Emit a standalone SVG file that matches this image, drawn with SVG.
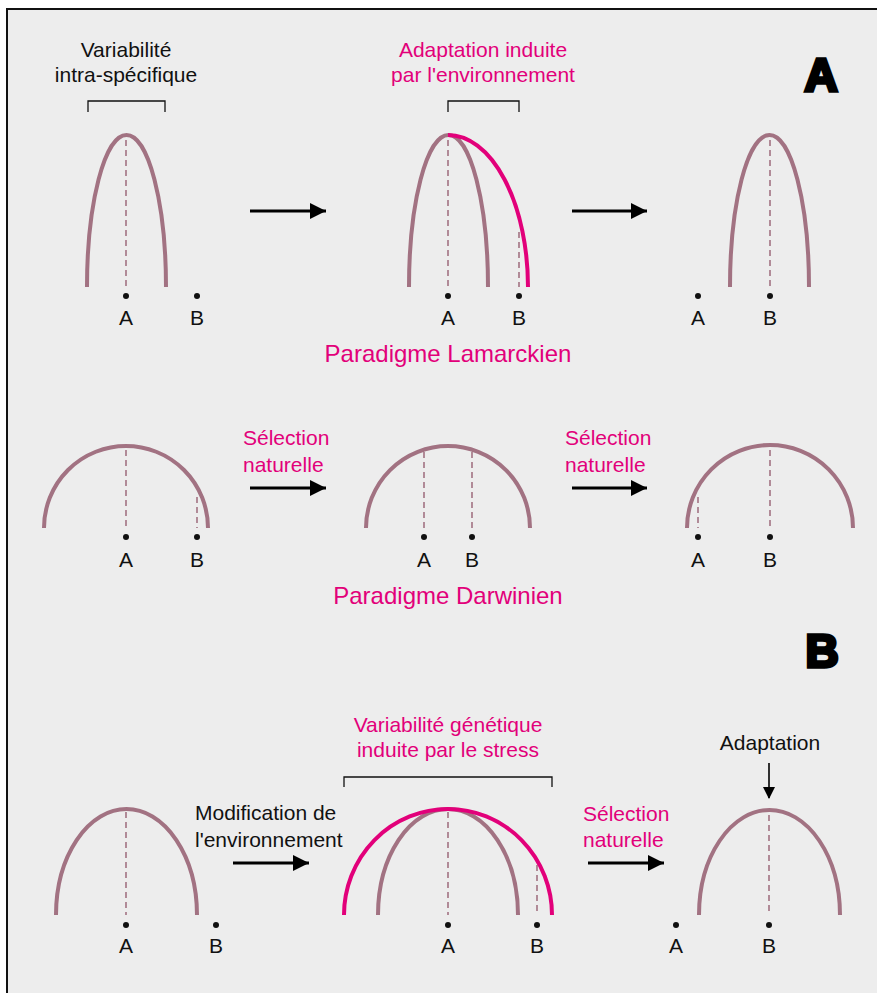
<svg xmlns="http://www.w3.org/2000/svg" width="877" height="993" viewBox="0 0 877 993">
<defs>
<style>
.bg{fill:#ededed;stroke:#111;stroke-width:2}
.cv{fill:none;stroke:#a27282;stroke-width:4}
.pk{fill:none;stroke:#e2007a;stroke-width:4}
.ds{fill:none;stroke:#a27282;stroke-width:1.6;stroke-dasharray:6 4}
.br{fill:none;stroke:#111;stroke-width:1.3}
.dot{fill:#111}
.t{font-family:"Liberation Sans",Arial,sans-serif;font-size:21px;fill:#111}
.tp{font-family:"Liberation Sans",Arial,sans-serif;font-size:21px;fill:#e2007a}
.tt{font-family:"Liberation Sans",Arial,sans-serif;font-size:24px;fill:#e2007a}
.c{text-anchor:middle}
.big{font-family:"Liberation Sans",Arial,sans-serif;font-weight:bold;font-size:46px;fill:#000;stroke:#000;stroke-width:3.5;stroke-linejoin:miter;text-anchor:middle}
.ar{stroke:#000;stroke-width:3;fill:none}
.ar2{stroke:#000;stroke-width:1.6;fill:none}
</style>
<marker id="ah" viewBox="0 0 16 16" refX="16" refY="8" markerWidth="16" markerHeight="16" markerUnits="userSpaceOnUse" orient="auto">
<path d="M0 0 L16 8 L0 16 Z" fill="#000"/>
</marker>
<marker id="ahs" viewBox="0 0 12 12" refX="11" refY="6" markerWidth="12" markerHeight="12" markerUnits="userSpaceOnUse" orient="auto">
<path d="M0 0 L12 6 L0 12 Z" fill="#000"/>
</marker>
</defs>
<rect class="bg" x="7" y="9" width="890" height="1000"/>

<text class="big" x="821" y="91">A</text>
<text class="big" x="822" y="667">B</text>

<!-- Lamarck row -->
<g id="lam1">
<text class="t c" x="126" y="57">Variabilité</text>
<text class="t c" x="126" y="82">intra-spécifique</text>
<path class="br" d="M88 112 V101 H165 V112"/>
<path class="ds" d="M126 140 V287"/>
<path class="cv" d="M87 287 A39.5 152 0 0 1 166 287"/>
<circle class="dot" cx="126" cy="296" r="3"/>
<circle class="dot" cx="197" cy="296" r="3"/>
<text class="t c" x="126" y="325">A</text>
<text class="t c" x="197" y="325">B</text>
</g>

<g id="lam2">
<text class="tp c" x="483" y="57">Adaptation induite</text>
<text class="tp c" x="483" y="82">par l'environnement</text>
<path class="br" d="M448 112 V101 H519 V112"/>
<path class="ds" d="M448 140 V287"/>
<path class="ds" d="M519 232 V287"/>
<path class="cv" d="M409 287 A39.5 152 0 0 1 488 287"/>
<path class="pk" d="M448 135 A80 152 0 0 1 528 287"/>
<circle class="dot" cx="448" cy="296" r="3"/>
<circle class="dot" cx="519" cy="296" r="3"/>
<text class="t c" x="448" y="325">A</text>
<text class="t c" x="519" y="325">B</text>
</g>

<g id="lam3">
<path class="ds" d="M770 140 V287"/>
<path class="cv" d="M730 287 A39.5 152 0 0 1 809 287"/>
<circle class="dot" cx="698" cy="296" r="3"/>
<circle class="dot" cx="770" cy="296" r="3"/>
<text class="t c" x="698" y="325">A</text>
<text class="t c" x="770" y="325">B</text>
</g>

<text id="lam-title" class="tt c" x="448" y="362">Paradigme Lamarckien</text>

<!-- Darwin row -->
<g id="dar1">
<path class="ds" d="M126 450 V528"/>
<path class="ds" d="M197 497 V528"/>
<path class="cv" d="M44 528 A82 82 0 0 1 208 528"/>
<circle class="dot" cx="126" cy="537" r="3"/>
<circle class="dot" cx="197" cy="537" r="3"/>
<text class="t c" x="126" y="567">A</text>
<text class="t c" x="197" y="567">B</text>
</g>

<g id="dar2">
<path class="ds" d="M424 452 V528"/>
<path class="ds" d="M472 452 V528"/>
<path class="cv" d="M366 528 A82 82 0 0 1 530 528"/>
<circle class="dot" cx="424" cy="537" r="3"/>
<circle class="dot" cx="472" cy="537" r="3"/>
<text class="t c" x="424" y="567">A</text>
<text class="t c" x="472" y="567">B</text>
</g>

<g id="dar3">
<path class="ds" d="M698 497 V528"/>
<path class="ds" d="M770 450 V528"/>
<path class="cv" d="M687 528 A83 83 0 0 1 853 528"/>
<circle class="dot" cx="698" cy="537" r="3"/>
<circle class="dot" cx="770" cy="537" r="3"/>
<text class="t c" x="698" y="567">A</text>
<text class="t c" x="770" y="567">B</text>
</g>

<text id="dar-title" class="tt c" x="448" y="604">Paradigme Darwinien</text>

<!-- Section B -->
<g id="b1">
<path class="ds" d="M126 812 V915"/>
<path class="cv" d="M56 915 A70.5 106 0 0 1 197 915"/>
<circle class="dot" cx="126" cy="925" r="3"/>
<circle class="dot" cx="216" cy="925" r="3"/>
<text class="t c" x="126" y="953">A</text>
<text class="t c" x="216" y="953">B</text>
</g>

<g id="b2">
<text class="tp c" x="448" y="732">Variabilité génétique</text>
<text class="tp c" x="448" y="757">induite par le stress</text>
<path class="br" d="M344 787 V777 H552 V787"/>
<path class="ds" d="M448 812 V915"/>
<path class="ds" d="M537 865 V915"/>
<path class="cv" d="M378 915 A70 106 0 0 1 518 915"/>
<path class="pk" d="M344 915 A104 106 0 0 1 552 915"/>
<circle class="dot" cx="448" cy="925" r="3"/>
<circle class="dot" cx="537" cy="925" r="3"/>
<text class="t c" x="448" y="953">A</text>
<text class="t c" x="537" y="953">B</text>
</g>

<g id="b3">
<text class="t c" x="770" y="750">Adaptation</text>
<path class="ds" d="M769 815 V915"/>
<path class="cv" d="M699 915 A70.5 105 0 0 1 840 915"/>
<circle class="dot" cx="676" cy="925" r="3"/>
<circle class="dot" cx="769" cy="925" r="3"/>
<text class="t c" x="676" y="953">A</text>
<text class="t c" x="769" y="953">B</text>
</g>

<!-- connector labels -->
<g id="labels">
<text class="tp" x="243" y="445">Sélection</text>
<text class="tp" x="243" y="472">naturelle</text>
<text class="tp" x="565" y="445">Sélection</text>
<text class="tp" x="565" y="472">naturelle</text>
<text class="t" x="195" y="820">Modification de</text>
<text class="t" x="195" y="847">l'environnement</text>
<text class="tp" x="583" y="821">Sélection</text>
<text class="tp" x="583" y="847">naturelle</text>
</g>

<g id="connectors">
<path class="ar" d="M250 211 H326" marker-end="url(#ah)"/>
<path class="ar" d="M572 211 H647" marker-end="url(#ah)"/>
<path class="ar" d="M250 488 H326" marker-end="url(#ah)"/>
<path class="ar" d="M572 488 H647" marker-end="url(#ah)"/>
<path class="ar" d="M233 863 H309" marker-end="url(#ah)"/>
<path class="ar" d="M588 863 H664" marker-end="url(#ah)"/>
<path class="ar2" d="M769 763 V798" marker-end="url(#ahs)"/>
</g>
</svg>
